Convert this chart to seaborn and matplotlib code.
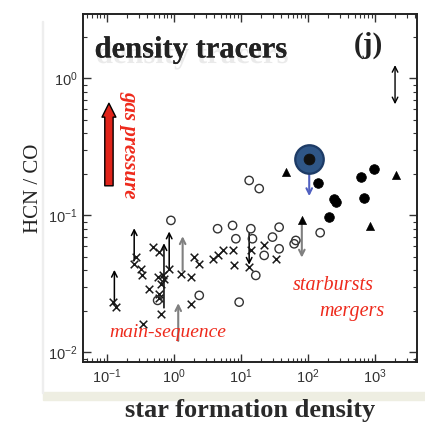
import numpy as np
import pandas as pd
import matplotlib
matplotlib.use("Agg")
import matplotlib.pyplot as plt
import matplotlib.patheffects as pe
from matplotlib.patches import Rectangle
import seaborn as sns

# ---- data ----
cross_x = [0.122, 0.136, 0.255, 0.271, 0.322, 0.333, 0.481, 0.604, 0.428, 0.571,
           0.678, 0.604, 0.640, 0.716, 0.640, 0.341, 0.851, 1.27, 1.79, 2.01,
           2.39, 1.79, 3.78, 4.49, 5.33, 7.52, 7.94, 13.3, 14.4, 21.8, 33.3, 0.59]
cross_y = [0.0233, 0.0214, 0.0444, 0.0496, 0.0408, 0.0365, 0.0587, 0.054, 0.0292, 0.0355,
           0.0365, 0.0268, 0.0317, 0.0345, 0.0191, 0.0162, 0.0408, 0.0375, 0.0355, 0.0496,
           0.0444, 0.0227, 0.0483, 0.0511, 0.0555, 0.0555, 0.0432, 0.042, 0.0555, 0.0604, 0.0483, 0.0248]

open_x = [0.902, 13.3, 18.8, 4.49, 7.52, 8.42, 14.1, 14.9, 16.7, 2.39,
          9.43, 0.571, 22.3, 29.7, 37.3, 37.3, 62.5, 66.2, 153]
open_y = [0.092, 0.180, 0.157, 0.080, 0.0845, 0.0676, 0.080, 0.0676, 0.0365, 0.0261,
          0.0233, 0.024, 0.0511, 0.0695, 0.0821, 0.0571, 0.0621, 0.0657, 0.0748]

filled_x = [142, 633, 977, 247, 262, 692, 204]
filled_y = [0.173, 0.19, 0.219, 0.132, 0.125, 0.135, 0.0972]

tri_x = [47, 2110, 81.4, 851]
tri_y = [0.207, 0.196, 0.092, 0.0832]

big_x = [105]
big_y = [0.259]

# arrows: x, y start, y end, colour
arrow_x = [0.129, 0.255, 0.71, 0.85, 1.35, 1.16, 13.3, 81.4, 105]
arrow_y0 = [0.0214, 0.0446, 0.0202, 0.0397, 0.0377, 0.0116, 0.0777, 0.092, 0.259]
arrow_y1 = [0.042, 0.0845, 0.0657, 0.080, 0.0739, 0.024, 0.0417, 0.047, 0.132]
arrow_col = ["black", "black", "black", "black", "gray", "gray", "black", "gray", "#5060c0"]

dbl_x = [2010]
dbl_y0 = [1.31]
dbl_y1 = [0.618]

red_x = [0.107]
red_y0 = [0.157]
red_y1 = [0.69]

xtick_vals = [0.1, 1, 10, 100, 1000]
ytick_vals = [0.01, 0.1, 1]

sns.set_style("ticks")
fig = plt.figure(figsize=(4.25, 4.23), dpi=100)
ax = fig.add_axes([0.195, 0.144, 0.786, 0.823])

# faint panel edge behind the plot
fig.patches.append(Rectangle((0.10, 0.055), 0.90, 0.018, transform=fig.transFigure,
                             color="#eeeee2", zorder=-5))
fig.patches.append(Rectangle((0.098, 0.07), 0.004, 0.88, transform=fig.transFigure,
                             color="#eeeeee", zorder=-5))

sns.scatterplot(x=cross_x, y=cross_y, marker="x", s=30, color="#1a1a1a",
                linewidth=1.1, ax=ax, zorder=3)
sns.scatterplot(x=open_x, y=open_y, marker="o", s=36, facecolor="none",
                edgecolor="#333333", linewidth=1.0, ax=ax, zorder=3)
sns.scatterplot(x=filled_x, y=filled_y, marker="o", s=48, color="black",
                edgecolor="black", ax=ax, zorder=3)
sns.scatterplot(x=tri_x, y=tri_y, marker="^", s=34, color="black",
                edgecolor="black", ax=ax, zorder=3)

for x, y0, y1, c in zip(arrow_x, arrow_y0, arrow_y1, arrow_col):
    ax.annotate("", xy=(x, y1), xytext=(x, y0),
                arrowprops=dict(arrowstyle="->", color=c, lw=1.5 if c != "black" else 1.1),
                zorder=2)
for x, y0, y1 in zip(dbl_x, dbl_y0, dbl_y1):
    ax.annotate("", xy=(x, y1), xytext=(x, y0),
                arrowprops=dict(arrowstyle="<->", color="black", lw=1.0))
for x, y0, y1 in zip(red_x, red_y0, red_y1):
    ax.annotate("", xy=(x, y1), xytext=(x, y0),
                arrowprops=dict(arrowstyle="simple,head_width=1.0,head_length=1.0,tail_width=0.6",
                                fc="#e0241b", ec="black", lw=1.0))

sns.scatterplot(x=big_x, y=big_y, marker="o", s=420, color="#2f5687",
                edgecolor="#1d3b66", ax=ax, zorder=4)
sns.scatterplot(x=big_x, y=big_y, marker="o", s=60, color="#111111",
                edgecolor="#111111", ax=ax, zorder=5)

ax.set_xscale("log")
ax.set_yscale("log")
ax.set_xlim(10 ** -1.36, 10 ** 3.63)
ax.set_ylim(10 ** -2.07, 10 ** 0.47)
ax.set_xticks(xtick_vals)
ax.set_yticks(ytick_vals)
ax.tick_params(which="both", direction="in", top=True, right=True, color="#333333")
ax.tick_params(which="major", length=6, width=1.0, labelsize=10.5, labelcolor="#333333")
ax.tick_params(which="minor", length=3, width=0.8)
for lab in ax.get_xticklabels() + ax.get_yticklabels():
    lab.set_family("Liberation Sans")
for s in ax.spines.values():
    s.set_linewidth(1.4)
    s.set_color("#222222")

ax.set_xlabel("star formation density", family="Liberation Serif", fontweight="bold",
              fontsize=19, color="#2a2a2a", labelpad=10)
ax.set_ylabel("HCN / CO", family="Liberation Serif", fontsize=15, color="#222222",
              labelpad=4)

ax.text(0.035, 0.875, "density tracers", transform=ax.transAxes, family="Liberation Serif",
        fontweight="bold", fontsize=22, color="#222222",
        path_effects=[pe.withSimplePatchShadow(offset=(1, -4), shadow_rgbFace="#999999", alpha=0.2),
                      pe.Normal()])
ax.text(0.81, 0.89, "(j)", transform=ax.transAxes, family="Liberation Serif",
        fontweight="bold", fontsize=21, color="#222222")

red = "#ee2a1c"
ax.text(0.14, 0.625, "gas pressure", family="Liberation Serif", style="italic",
        fontweight="bold", fontsize=15, color=red, rotation=-90, ha="center", va="center",
        transform=ax.transAxes)
ax.text(0.75, 0.22, "starbursts", family="Liberation Serif", style="italic",
        fontsize=14.5, color=red, ha="center", va="center", transform=ax.transAxes)
ax.text(0.805, 0.145, "mergers", family="Liberation Serif", style="italic",
        fontsize=14.5, color=red, ha="center", va="center", transform=ax.transAxes)
ax.text(0.255, 0.085, "main-sequence", family="Liberation Serif", style="italic",
        fontsize=14, color=red, ha="center", va="center", transform=ax.transAxes)

fig.savefig("out.png", dpi=100)
